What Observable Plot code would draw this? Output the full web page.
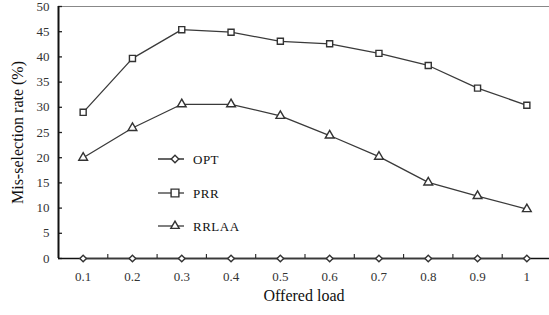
<!DOCTYPE html>
<html>
<head>
<meta charset="utf-8">
<script src="https://cdn.jsdelivr.net/npm/d3@7"></script>
<script src="https://cdn.jsdelivr.net/npm/@observablehq/plot@0.6"></script>
<style>
  html, body { margin: 0; padding: 0; background: #fff; }
  #wrap { position: relative; width: 549px; height: 315px; overflow: hidden; }
  #legend { position: absolute; left: 0; top: 0; }
  svg, svg text { font-family: "Liberation Serif", "Times New Roman", Times, serif !important; }
</style>
</head>
<body>
<div id="wrap"></div>
<script>
const loads = [0.1, 0.2, 0.3, 0.4, 0.5, 0.6, 0.7, 0.8, 0.9, 1.0];
const loadLabels = ["0.1", "0.2", "0.3", "0.4", "0.5", "0.6", "0.7", "0.8", "0.9", "1"];
const optValues = [0, 0, 0, 0, 0, 0, 0, 0, 0, 0];
const prrValues = [29.0, 39.7, 45.4, 44.9, 43.1, 42.6, 40.7, 38.3, 33.8, 30.4];
const rrlaaValues = [20.0, 25.9, 30.6, 30.6, 28.3, 24.4, 20.2, 15.1, 12.4, 9.8];
const yTicks = [0, 5, 10, 15, 20, 25, 30, 35, 40, 45, 50];
const seriesNames = ["OPT", "PRR", "RRLAA"];
const seriesSymbols = ["diamond2", "square", "triangle"];
const boundaries = [0.15, 0.25, 0.35, 0.45, 0.55, 0.65, 0.75, 0.85, 0.95];

const seriesValues = [optValues, prrValues, rrlaaValues];
const data = seriesNames.flatMap((name, s) =>
  loads.map((x, i) => ({series: name, x, y: seriesValues[s][i], symbol: seriesSymbols[s]})));

const font = "Liberation Serif, Times New Roman, serif";
const lineColor = "#3a3a3a";
const symbolR = {diamond2: 3.4, square: 4.4, triangle: 4.0};

const chart = Plot.plot({
  width: 549,
  height: 315,
  marginLeft: 58,
  marginRight: 0,
  marginTop: 6,
  marginBottom: 57,
  style: {fontFamily: font, background: "#fff", overflow: "visible"},
  x: {type: "linear", domain: [0.05, 1.05], range: [58, 551]},
  y: {domain: [0, 50]},
  symbol: {type: "identity"},
  marks: [
    Plot.ruleY([50], {stroke: "#888", strokeWidth: 1.2}),
    Plot.axisY({ticks: yTicks, tickSize: 0, tickPadding: 9, fontSize: 13, label: null, fill: "#333", style: {letterSpacing: "1px"}}),
    Plot.axisY({ticks: yTicks, tickSize: -4, tickFormat: () => "", label: null, stroke: "#222", strokeWidth: 1.3}),
    Plot.axisX({ticks: loads, tickSize: 0, tickPadding: 13, tickFormat: (d, i) => loadLabels[i], fontSize: 13, label: null, fill: "#333", style: {letterSpacing: "1px"}}),
    Plot.axisX({ticks: boundaries, tickSize: -4, tickFormat: () => "", label: null, stroke: "#222", strokeWidth: 1.1}),
    Plot.ruleX([0.05], {stroke: "#111", strokeWidth: 2}),
    Plot.ruleY([0], {stroke: "#111", strokeWidth: 1.6}),
    Plot.line(data, {x: "x", y: "y", z: "series", stroke: lineColor, strokeWidth: 1.3}),
    Plot.dot(data, {x: "x", y: "y", symbol: "symbol", r: d => symbolR[d.symbol], stroke: "#333", strokeWidth: 1.4, fill: "#fff"}),
    Plot.text(["Mis-selection rate (%)"], {frameAnchor: "left", textAnchor: "middle", rotate: -90, dx: -41, fontSize: 16, fill: "#111"}),
    Plot.text(["Offered load"], {frameAnchor: "bottom", dy: 42, fontSize: 16, fill: "#111"})
  ]
});

const wrap = document.getElementById("wrap");
wrap.appendChild(chart);

// Legend (inside plot area)
const legend = d3.select(wrap).append("svg")
  .attr("id", "legend").attr("width", 549).attr("height", 315);
const legendRowsY = [159, 193, 226];
const symbolTypes = {diamond2: d3.symbolDiamond2, square: d3.symbolSquare, triangle: d3.symbolTriangle2};
seriesNames.forEach((name, i) => {
  const g = legend.append("g").attr("transform", `translate(0,${legendRowsY[i]})`);
  g.append("line").attr("x1", 158).attr("x2", 184).attr("y1", 0).attr("y2", 0)
    .attr("stroke", i === 0 ? "#111" : lineColor).attr("stroke-width", 1.3);
  const r = symbolR[seriesSymbols[i]];
  g.append("path").attr("transform", "translate(175,0)")
    .attr("d", d3.symbol(symbolTypes[seriesSymbols[i]], Math.PI * r * r)())
    .attr("fill", "#fff").attr("stroke", "#333").attr("stroke-width", 1.4);
  g.append("text").attr("x", 193).attr("y", 0).attr("dy", "0.35em")
    .attr("font-size", 13).attr("fill", "#111").attr("letter-spacing", "0.5px")
    .text(name);
});
</script>
</body>
</html>
